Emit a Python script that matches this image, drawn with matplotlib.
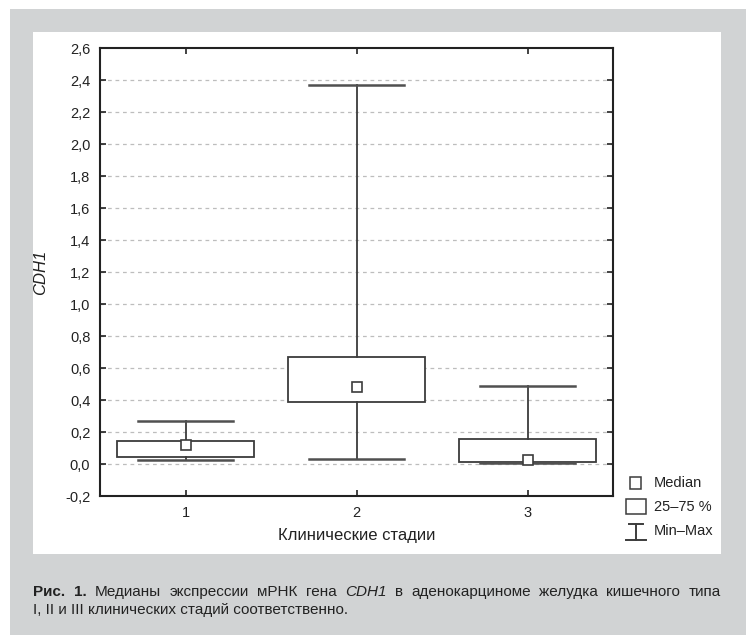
import matplotlib
matplotlib.use("Agg")
import matplotlib.pyplot as plt
from matplotlib import font_manager as fm
from matplotlib.patches import Rectangle
from matplotlib.lines import Line2D

names = {f.name for f in fm.fontManager.ttflist}
FONT = 'Liberation Sans Narrow' if 'Liberation Sans Narrow' in names else 'Liberation Sans'
plt.rcParams['font.family'] = [FONT, 'DejaVu Sans']

# ---- data ----
categories = ['1', '2', '3']
medians = [0.12, 0.48, 0.025]
q1 = [0.042, 0.39, 0.012]
q3 = [0.144, 0.67, 0.155]
mins = [0.023, 0.033, 0.004]
maxs = [0.27, 2.37, 0.485]
yticks = [-0.2, 0.0, 0.2, 0.4, 0.6, 0.8, 1.0, 1.2, 1.4, 1.6, 1.8, 2.0, 2.2, 2.4, 2.6]
ytick_labels = [f"{v:.1f}".replace('.', ',') for v in yticks]
xlabel = 'Клинические стадии'
ylabel = 'CDH1'
legend_labels = ['Median', '25–75 %', 'Min–Max']

W, H = 746, 635
fig = plt.figure(figsize=(W / 100, H / 100), dpi=100)
fig.patch.set_facecolor('white')

def fx(x):
    return x / W

def fy(y):
    return 1 - y / H

GRAY = '#d1d3d4'
fig.patches.append(Rectangle((fx(10), 0), 1 - fx(10), fy(9), transform=fig.transFigure,
                             facecolor=GRAY, edgecolor='none', zorder=-3))
fig.patches.append(Rectangle((fx(33), fy(554)), fx(721) - fx(33), fy(32) - fy(554),
                             transform=fig.transFigure, facecolor='white', edgecolor='none', zorder=-2))

ax = fig.add_axes([fx(100), fy(496), fx(613) - fx(100), fy(48) - fy(496)])
ax.set_facecolor('white')

stats = []
for i in range(len(categories)):
    stats.append(dict(med=medians[i], q1=q1[i], q3=q3[i], whislo=mins[i], whishi=maxs[i],
                      fliers=[], label=categories[i]))
EC = '#3c3c3c'
ax.bxp(stats, positions=[1, 2, 3], widths=0.8, capwidths=0.55, showfliers=False,
       patch_artist=True,
       boxprops=dict(facecolor='white', edgecolor=EC, linewidth=1.3),
       whiskerprops=dict(color=EC, linewidth=1.3),
       capprops=dict(color='#505050', linewidth=1.8),
       medianprops=dict(linestyle='none'), zorder=3)
ax.plot([1, 2, 3], medians, linestyle='none', marker='s', markersize=6.5,
        markerfacecolor='white', markeredgecolor=EC, markeredgewidth=1.2, zorder=4)

ax.set_xlim(0.5, 3.5)
ax.set_ylim(-0.2, 2.6)
ax.set_yticks(yticks)
ax.set_yticklabels(ytick_labels, fontsize=10.5, color='#222222')
ax.set_xticks([1, 2, 3])
ax.set_xticklabels(categories, fontsize=10.5, color='#222222')
ax.tick_params(axis='both', direction='in', length=4, width=1.2, color='#222222',
               top=True, right=True, pad=7)
for s in ax.spines.values():
    s.set_linewidth(1.5)
    s.set_color('#222222')
for v in yticks[1:-1]:
    ax.axhline(v, color='#bdbdbd', linestyle=(0, (3, 3)), linewidth=0.9, zorder=1)

ax.set_xlabel(xlabel, fontsize=12, color='#222222', labelpad=6)
ax.set_ylabel(ylabel, fontsize=12, style='italic', color='#222222', labelpad=12)

# ---- legend (manual) ----
tc = '#222222'
lx0, lx1 = 626, 646
fig.add_artist(Rectangle((fx(630), fy(489)), fx(641) - fx(630), fy(477) - fy(489),
                         transform=fig.transFigure, facecolor='white', edgecolor=EC, lw=1.1, zorder=5))
fig.text(fx(654), fy(483), legend_labels[0], fontsize=10.5, va='center', ha='left', color=tc)
fig.add_artist(Rectangle((fx(lx0), fy(514)), fx(lx1) - fx(lx0), fy(499) - fy(514),
                         transform=fig.transFigure, facecolor='white', edgecolor=EC, lw=1.1, zorder=5))
fig.text(fx(654), fy(507), legend_labels[1], fontsize=10.5, va='center', ha='left', color=tc)
for seg in [((lx0 + 3, lx1 - 3), (524, 524)), ((lx0, lx1), (540, 540)), ((636, 636), (524, 540))]:
    fig.add_artist(Line2D([fx(seg[0][0]), fx(seg[0][1])], [fy(seg[1][0]), fy(seg[1][1])],
                          transform=fig.transFigure, color=EC, lw=1.4, zorder=5))
fig.text(fx(654), fy(531), legend_labels[2], fontsize=10.5, va='center', ha='left', color=tc)

# ---- caption (justified first line) ----
cap_fs = 11
line1 = [('Рис.', 'bold'), ('1.', 'bold'), ('Медианы', 'n'), ('экспрессии', 'n'), ('мРНК', 'n'),
         ('гена', 'n'), ('CDH1', 'i'), ('в', 'n'), ('аденокарциноме', 'n'), ('желудка', 'n'),
         ('кишечного', 'n'), ('типа', 'n')]
renderer = fig.canvas.get_renderer()
x_left, x_right = 33, 721

def mk(x, y, word, st):
    kw = dict(fontsize=cap_fs, va='center', ha='left', color='#222222')
    if st == 'bold':
        kw['fontweight'] = 'bold'
    elif st == 'i':
        kw['style'] = 'italic'
    return fig.text(fx(x), fy(y), word, **kw)

texts = [mk(0, 592, w, s) for w, s in line1]
widths = [t.get_window_extent(renderer).width for t in texts]
gap = (x_right - x_left - sum(widths)) / (len(texts) - 1)
cx = x_left
for t, w in zip(texts, widths):
    t.set_x(fx(cx))
    cx += w + gap
mk(x_left, 610, 'I, II и III клинических стадий соответственно.', 'n')

fig.savefig('out.png', dpi=100, facecolor='white')
